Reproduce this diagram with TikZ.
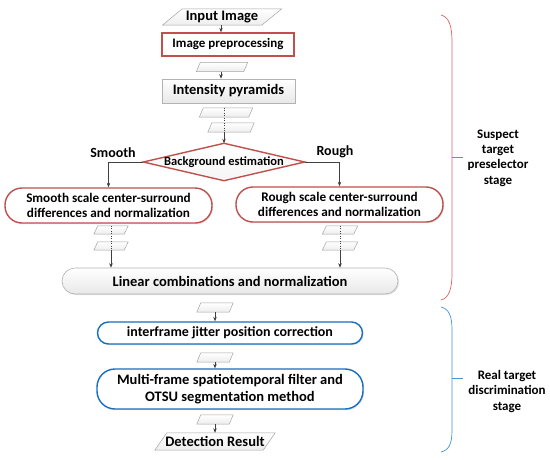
\documentclass[tikz,border=0pt]{standalone}
\usepackage{fontspec}
\setmainfont{Carlito}
\usetikzlibrary{arrows.meta,backgrounds,shadows,calc}
\definecolor{boxred}{RGB}{192,80,77}
\definecolor{bracered}{RGB}{215,105,100}
\definecolor{boxblue}{RGB}{20,110,195}
\definecolor{braceblue}{RGB}{70,150,215}
\definecolor{arrgray}{RGB}{64,64,64}
\definecolor{paraline}{RGB}{165,165,165}
\tikzset{
  every node/.style={font=\bfseries},
  arr/.style={draw=arrgray, line width=0.6pt, -{Stealth[length=4.5pt,width=3.5pt]}},
  dotline/.style={draw=arrgray, line width=0.5pt, dotted},
  paratext/.style={inner sep=0pt, font=\bfseries\fontsize{14.5}{16}\selectfont},
  parabox/.style={draw=paraline, line width=0.5pt, top color=white, bottom color=gray!14},
  shade/.style={drop shadow={opacity=0.22, shadow xshift=1.2pt, shadow yshift=-1.2pt}},
  redbox/.style={draw=boxred, line width=1.4pt, fill=white, shade},
  bluebox/.style={draw=boxblue, line width=1.4pt, fill=white, shade},
  graybox/.style={draw=gray!60, line width=0.6pt, top color=white, bottom color=gray!18, shade},
  lbl/.style={font=\bfseries\fontsize{14}{16}\selectfont},
  stage/.style={align=center, font=\bfseries\fontsize{13}{15.4}\selectfont},
}
\newcommand\paranode[7]{%
  \node[paratext, minimum width=#4pt, minimum height=#5pt] (#1) at (#2,#3) {#7};
  \begin{pgfonlayer}{background}
  \draw[parabox] ([xshift=#6pt]#1.north west) -- ([xshift=#6pt]#1.north east)
     -- ([xshift=-#6pt]#1.south east) -- ([xshift=-#6pt]#1.south west) -- cycle;
  \end{pgfonlayer}}
\begin{document}
\begin{tikzpicture}[x=1pt,y=-1pt]
\useasboundingbox (0,0) rectangle (550,459);
\begin{pgfonlayer}{background}
\fill[white] (0,0) rectangle (550,459);
\end{pgfonlayer}

% top column
\paranode{inp}{222}{17}{99}{16}{10}{Input Image}
\node[redbox, minimum width=132pt, minimum height=23pt, inner sep=0pt,
      font=\bfseries\fontsize{13}{15}\selectfont] (pre) at (228,44.5) {Image preprocessing};
\paranode{p2}{222}{67}{47}{9}{2}{}
\node[graybox, minimum width=133pt, minimum height=24pt, inner sep=0pt,
      font=\bfseries\fontsize{14.5}{16}\selectfont] (int) at (228.5,91) {Intensity pyramids};
\paranode{p3a}{226}{112.5}{49}{9}{2}{}
\paranode{p3b}{231}{127.5}{42}{9}{2}{}

% diamond
\node[inner sep=0pt, minimum width=161pt, minimum height=37pt,
      font=\bfseries\fontsize{12.5}{14}\selectfont] (d) at (224,162) {Background estimation};
\begin{pgfonlayer}{background}
\draw[draw=boxred, line width=1.4pt, top color=white, bottom color=gray!8]
  (d.north) -- (d.east) -- (d.south) -- (d.west) -- cycle;
\end{pgfonlayer}
\node[lbl] (smlbl) at (113,153) {Smooth};
\node[lbl] (rolbl) at (335,152) {Rough};

% two branches
\node[redbox, rounded corners=17pt, minimum width=207pt, minimum height=35pt, inner sep=0pt,
      align=center, font=\bfseries\fontsize{13.2}{15}\selectfont] (sm) at (108.5,205.5)
      {Smooth scale center-surround\\differences and normalization};
\node[redbox, rounded corners=17pt, minimum width=207pt, minimum height=35pt, inner sep=0pt,
      align=center, font=\bfseries\fontsize{13.2}{15}\selectfont] (ro) at (339.5,204.5)
      {Rough scale center-surround\\differences and normalization};
\paranode{p4a}{111}{230}{30}{8}{2}{}
\paranode{p4b}{111}{246}{30}{8}{2}{}
\paranode{p5a}{340}{230}{31}{8}{2}{}
\paranode{p5b}{340}{246}{31}{8}{2}{}

\node[graybox, rounded corners=13pt, minimum width=336pt, minimum height=26pt, inner sep=0pt,
      font=\bfseries\fontsize{14.5}{16}\selectfont] (lin) at (230,281) {Linear combinations and normalization};

% lower column
\paranode{p6}{215}{307.5}{32}{9}{2}{}
\node[bluebox, rounded corners=11pt, minimum width=265pt, minimum height=22pt, inner sep=0pt,
      font=\bfseries\fontsize{14}{16}\selectfont] (ij) at (230,333) {interframe jitter position correction};
\paranode{p7}{215}{357.5}{32}{9}{2}{}
\node[bluebox, rounded corners=18pt, minimum width=266pt, minimum height=40pt, inner sep=0pt,
      align=center, font=\bfseries\fontsize{14.5}{17}\selectfont] (mf) at (230,389)
      {Multi-frame spatiotemporal filter and\\OTSU segmentation method};
\paranode{p8}{215}{419.5}{32}{9}{2}{}
\paranode{det}{215}{441.5}{108}{17}{6}{Detection Result}

% connectors
\draw[arr] (inp.south -| 221,0) -- (pre.north -| 221,0);
\draw[arr] (p2.south -| 221,0) -- (int.north -| 221,0);
\draw[dotline] (d.north |- p3a.north) -- (d.north |- p3b.south);
\draw[arr] (d.north |- p3b.south) -- (d.north);
\draw[arr] (d.west) -| (sm.north);
\draw[arr] (d.east) -| (ro.north);
\draw[dotline] (p4a.north) -- (p4b.south);
\draw[arr] (p4b.south) -- (p4b.south |- lin.north);
\draw[dotline] (p5a.north) -- (p5b.south);
\draw[arr] (p5b.south) -- (p5b.south |- lin.north);
\draw[arr] (p6.south) -- (p6.south |- ij.north);
\draw[arr] (p7.south) -- (p7.south |- mf.north);
\draw[arr] (p8.south) -- (det.north);

% braces
\coordinate (rt) at (441,15);
\coordinate (rb) at (441,300);
\draw[bracered, line width=0.7pt] (rt) .. controls (449,17) and (452,26) .. (452,42)
   -- (452,273) .. controls (452,289) and (449,298) .. (rb);
\draw[bracered, line width=0.7pt] (452,157) -- (463,157);
\node[stage] (s1) at (498,158) {Suspect\\target\\preselector\\stage};

\coordinate (bt) at (441,307);
\coordinate (bb) at (441,452);
\draw[braceblue, line width=0.7pt] (bt) .. controls (449,309) and (452,316) .. (452,330)
   -- (452,430) .. controls (452,444) and (449,450) .. (bb);
\draw[braceblue, line width=0.7pt] (452,378) -- (463,378);
\node[stage] (s2) at (507,391.5) {Real target\\discrimination\\stage};
\end{tikzpicture}
\end{document}
